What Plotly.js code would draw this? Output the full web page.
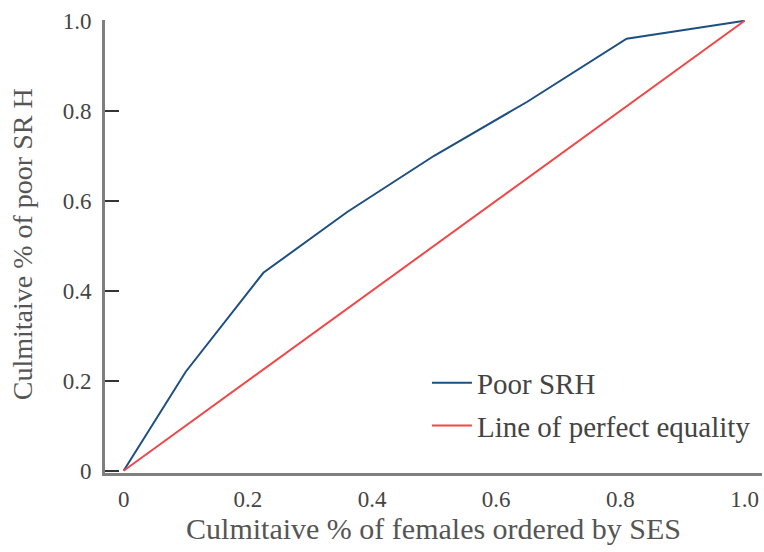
<!DOCTYPE html>
<html>
<head>
<meta charset="utf-8">
<script src="https://cdn.plot.ly/plotly-3.0.1.min.js"></script>
<style>html,body{margin:0;padding:0;background:#fff;}#chart{width:764px;height:552px;}</style>
</head>
<body>
<div id="chart"></div>
<script>
// Data
const poorX = [0, 0.1, 0.225, 0.36, 0.5, 0.65, 0.81, 1.0];
const poorY = [0, 0.22, 0.44, 0.575, 0.70, 0.82, 0.96, 1.0];
const equalX = [0, 1];
const equalY = [0, 1];
const xTickVals = [0, 0.2, 0.4, 0.6, 0.8, 1.0];
const xTickText = ['0', '0.2', '0.4', '0.6', '0.8', '1.0'];
const yTickVals = [0, 0.2, 0.4, 0.6, 0.8, 1.0];
const yTickText = ['0', '0.2', '0.4', '0.6', '0.8', '1.0'];
const xTitle = 'Culmitaive % of females ordered by SES';
const yTitle = 'Culmitaive % of poor SR H';

const FONT = '"Liberation Serif", "DejaVu Serif", serif';

const traces = [
  {x: poorX, y: poorY, type: 'scatter', mode: 'lines', name: 'Poor SRH',
   line: {color: '#1d4f82', width: 2}, legendgroup: 'a'},
  {x: equalX, y: equalY, type: 'scatter', mode: 'lines', name: 'Line of perfect equality',
   line: {color: '#f04848', width: 2}, legendgroup: 'b'}
];

const layout = {
  width: 764, height: 552,
  margin: {l: 105, r: 2, t: 20, b: 79},
  paper_bgcolor: '#fff', plot_bgcolor: '#fff',
  font: {family: FONT, color: '#444'},
  showlegend: true,
  legend: {x: 0.49, y: 0.255, xanchor: 'left', yanchor: 'top',
           font: {family: FONT, size: 29, color: '#444'},
           itemwidth: 40,
           traceorder: 'grouped', tracegroupgap: 2, bgcolor: 'rgba(0,0,0,0)'},
  xaxis: {
    range: [-0.03, 1.028], showgrid: false, zeroline: false,
    showline: true, linecolor: '#7f7f7f', linewidth: 3,
    ticks: '', tickvals: xTickVals, ticktext: xTickText,
    tickfont: {family: FONT, size: 23, color: '#444'},
    ticklabelstandoff: 3,
    title: {text: xTitle, font: {family: FONT, size: 30, color: '#555'}, standoff: 8}
  },
  yaxis: {
    range: [-0.005, 1.0017], showgrid: false, zeroline: false,
    showline: true, linecolor: '#7f7f7f', linewidth: 3,
    ticks: 'inside', ticklen: 14, tickwidth: 2, tickcolor: '#333',
    tickvals: yTickVals, ticktext: yTickText,
    tickfont: {family: FONT, size: 23, color: '#444'},
    ticklabelstandoff: 6,
    title: {text: ''}
  },
  annotations: [{
    text: yTitle, xref: 'paper', yref: 'paper',
    x: -0.1263, y: 0.505, xanchor: 'center', yanchor: 'middle',
    textangle: -90, showarrow: false,
    font: {family: FONT, size: 28, color: '#555'}
  }]
};

Plotly.newPlot('chart', traces, layout, {displayModeBar: false, staticPlot: true});
</script>
</body>
</html>
